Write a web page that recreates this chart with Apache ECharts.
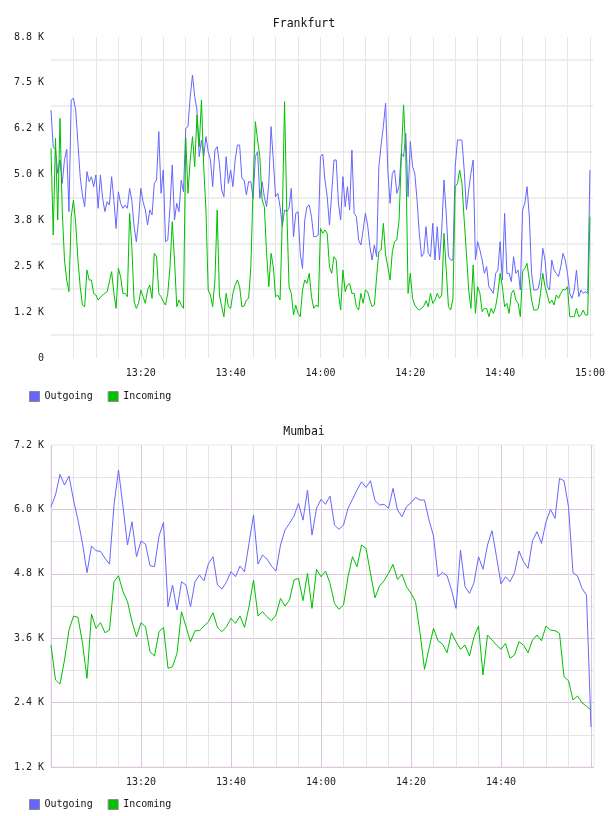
<!DOCTYPE html>
<html>
<head>
<meta charset="utf-8">
<script src="https://cdn.jsdelivr.net/npm/echarts@6/dist/echarts.min.js"></script>
<style>
html,body{margin:0;padding:0;background:#fff;}
#chart{width:608px;height:816px;}
</style>
</head>
<body>
<div id="chart"></div>
<script>
// ---- data ----
const seriesNames = ['Outgoing', 'Incoming'];
const chartTitles = ['Frankfurt', 'Mumbai'];

// Frankfurt: samples every 0.5 min starting 13:00 (minutes since midnight)
const frankfurtStartMin = 780;
const frankfurtStepMin = 0.5;
const frankfurtOutgoing = [
6760,5740,5690,5030,5400,4760,5400,5690,3990,7030,7080,6760,5850,4940,4440,4125,5080,4806,4940,4670,
4990,4080,4990,4350,3990,4260,4170,4940,4300,3530,4530,4215,4080,4170,4080,4625,4300,3580,3170,3760,
4625,4260,4035,3625,4035,3900,4760,4850,6170,4490,5125,3170,3215,4125,5260,3760,4215,3990,4850,4530,
6260,
6306,7123,7714,7123,6760,5488,5942,5488,6033,5624,5397,4670,5670,5760,5306,4580,4397,5488,4760,5124,
4670,5397,5806,5806,4897,4850,4443,4806,4806,4352,5488,5624,4352,4806,4397,4125,4760,6306,5397,4397,
4489,4125,3580,4035,3990,4080,4625,3307,3943,3990,2853,2444,3760,4125,4170,3852,3307,3307,3352,5488,
5560,4850,4397,3625,4489,5397,5397,4215,3760,4943,4125,4670,4035,5670,3943,3852,3216,3080,3489,3943,
3625,3034,2671,3080,2762,5215,5806,6306,6942,5124,4215,5033,5124,4489,4670,5579,5488,6124,4397,5897,
5215,5033,4306,3398,2762,2853,3580,2853,2762,3670,2671,3580,2671,3489,4850,3943,2762,2671,2671,5215,
5942,
5942,5942,5124,4034,4580,5033,5397,2671,3170,2943,2671,2307,2489,1943,1853,1762,2307,2398,3170,2126,
3943,2307,2307,2080,2762,2307,2398,1853,4034,4215,4670,3852,2307,1853,1853,1898,2217,2989,2671,1943,
1853,2671,2398,2307,2217,2489,2853,2671,2307,1762,1625,1853,2398,1671,1853,1762,1807,1762,5124
];
const frankfurtIncoming = [
5715,3352,5988,3761,6533,4034,2671,2126,1808,3852,4307,3670,2671,1944,1444,1399,2398,2126,2126,1762,
1717,1580,1653,1717,1762,1808,2080,2353,1762,1353,2444,2217,1762,1762,1671,3943,3034,1535,1353,1489,
1853,1671,1489,1853,1989,1626,2853,2762,1762,1671,1535,1444,1762,2489,3716,2671,1399,1580,1444,1353,
6000,
4489,5397,6033,5215,6624,5760,7033,5215,4034,1853,1717,1399,2126,4034,1717,1399,1126,1762,1399,1353,
1762,1989,2126,1944,1399,1417,1580,1626,2489,4670,6442,5942,5488,4307,4125,2853,1944,2853,2489,1671,
1717,1580,3761,6987,4034,1944,1762,1172,1444,1217,1126,1853,2126,2035,2307,1671,1353,1444,1399,3534,
3398,3489,3398,2489,2307,2762,2671,1762,1308,2398,1808,1989,2035,1762,1762,1399,1308,1762,1489,1853,
1808,1580,1399,1444,2217,2898,2944,3670,2807,2489,2126,2898,3171,3216,3761,5488,6900,5579,1762,2307,
1626,1444,1353,1308,1353,1417,1562,1399,1762,1489,1580,1762,1626,1717,3398,2398,1399,1308,1626,4670,
4761,
5124,4761,3761,2853,1853,1353,2535,1217,1944,1762,1262,1353,1353,1126,1353,1217,1399,1762,2307,1944,
1399,1489,1217,1762,1853,1580,1489,1126,2353,2444,2580,2126,1580,1308,1308,1344,1762,2307,1944,1717,
1489,1580,1444,1717,1626,1762,1871,1853,1944,1126,1126,1126,1353,1126,1172,1308,1172,1172,3852
];

// Mumbai: samples every 1 min starting 13:00
const mumbaiStartMin = 780;
const mumbaiStepMin = 1;
const mumbaiOutgoing = [
6050,6268,6653,6454,6621,6174,5800,5367,4820,5317,5230,5218,5088,4982,6081,6733,6050,5336,5770,5118,
5410,5354,4950,4932,5503,5758,4187,4591,4125,4652,4591,4187,4652,4777,4671,4994,5118,4591,4516,4652,
4839,4746,4945,4839,5367,5895,4982,5150,5075,4945,4851,5336,5615,5740,5876,6113,5800,
6360,5522,6019,6187,6094,6249,5708,5628,5708,6019,6187,6360,6515,6410,6534,6162,6081,6094,6019,6392,
5988,5863,6050,6124,6224,6174,6174,5802,5503,4746,4827,4765,4498,4156,5243,4560,4436,4634,5118,4883,
5336,5603,5118,4609,4746,4652,4820,5224,5025,4901,5416,5584,5367,5770,6000,5833,6578,6534,6050,4820,
4758,4529,4400,1945
];
const mumbaiIncoming = [
3473,2821,2746,3193,3752,4013,3989,3504,2852,4050,3784,3889,3702,3752,4652,4764,4466,4280,3907,3627,
3889,3814,3348,3268,3721,3802,3039,3069,3318,4093,3814,3534,3740,3740,3827,3907,4075,3802,3721,3814,
3970,3877,4013,3802,4187,4684,4013,4093,4000,3926,4032,4342,4199,4311,4684,4715,4300,
4808,4155,4883,4745,4851,4622,4249,4137,4218,4745,5118,4932,5336,5274,4808,4354,4572,4671,4808,4976,
4696,4790,4559,4436,4280,3700,3020,3411,3784,3553,3491,3330,3702,3534,3392,3473,3268,3628,3827,2914,
3659,3566,3473,3392,3504,3225,3287,3534,3473,3330,3566,3659,3553,3827,3752,3740,3690,2882,2808,2448,
2523,2398,2330,2262
];

// tick labels
const frankfurtYLabels = ['0', '1.2 K', '2.5 K', '3.8 K', '5.0 K', '6.2 K', '7.5 K', '8.8 K'];
const mumbaiYLabels = ['1.2 K', '2.4 K', '3.6 K', '4.8 K', '6.0 K', '7.2 K'];
const frankfurtXLabels = ['13:20', '13:40', '14:00', '14:20', '14:40', '15:00'];
const mumbaiXLabels = ['13:20', '13:40', '14:00', '14:20', '14:40'];

// ---- chart ----
const FONT = 'DejaVu Sans Mono';
const BLUE = '#6666ff';
const GREEN = '#00c000';

function toPairs(start, step, vals) {
  return vals.map((v, i) => [start + i * step, v]);
}
function fmtTime(v) {
  const h = Math.floor(v / 60 + 1e-9);
  const m = Math.round(v - h * 60);
  return String(h).padStart(2, '0') + ':' + String(m).padStart(2, '0');
}

const xMin = 780, xMax = 900 + 2 / 3;

function xAxis(gridIndex, labels, major, minor, showMin) {
  return {
    type: 'value', gridIndex, min: xMin, max: xMax, interval: 20,
    axisLine: { show: false }, axisTick: { show: false },
    axisLabel: {
      margin: 10, fontFamily: FONT, fontSize: 10, color: '#222',
      showMinLabel: false, showMaxLabel: false,
      formatter: v => { const s = fmtTime(v); return labels.includes(s) ? s : ''; }
    },
    splitLine: { show: true, showMinLine: showMin, showMaxLine: false, lineStyle: { color: major, width: 1 } },
    minorTick: { show: false, splitNumber: 4 },
    minorSplitLine: { show: true, lineStyle: { color: minor, width: 1 } }
  };
}

const option = {
  animation: false,
  backgroundColor: '#fff',
  title: [
    { text: chartTitles[0], left: 'center', top: 13, textStyle: { fontFamily: FONT, fontSize: 11.5, fontWeight: 'normal', color: '#111' } },
    { text: chartTitles[1], left: 'center', top: 421, textStyle: { fontFamily: FONT, fontSize: 11.5, fontWeight: 'normal', color: '#111' } }
  ],
  legend: [
    { left: 24, top: 386, itemWidth: 10, itemHeight: 10, itemGap: 15, icon: 'rect', data: seriesNames,
      itemStyle: { borderColor: '#8a8a8a', borderWidth: 1 },
      textStyle: { fontFamily: FONT, fontSize: 10, color: '#111' } },
    { left: 24, top: 794, itemWidth: 10, itemHeight: 10, itemGap: 15, icon: 'rect', data: seriesNames,
      itemStyle: { borderColor: '#8a8a8a', borderWidth: 1 },
      textStyle: { fontFamily: FONT, fontSize: 10, color: '#111' } }
  ],
  grid: [
    { left: 51, top: 37, width: 543, height: 321, show: false },
    { left: 51, top: 445, width: 543, height: 322, show: true, borderColor: '#f0e2f0', borderWidth: 1, backgroundColor: 'transparent' }
  ],
  xAxis: [
    xAxis(0, frankfurtXLabels, '#e6e6e6', '#e6e6e6', false),
    xAxis(1, mumbaiXLabels, '#dcc6dc', '#e8e3e8', true)
  ],
  yAxis: [
    { type: 'value', gridIndex: 0, min: 0, max: 8750, interval: 1250,
      axisLine: { show: false }, axisTick: { show: false },
      axisLabel: { margin: 7, fontFamily: FONT, fontSize: 10, color: '#222',
        formatter: v => frankfurtYLabels[Math.round(v / 1250)] },
      splitLine: { show: false },
      minorTick: { show: false, splitNumber: 2 },
      minorSplitLine: { show: true, lineStyle: { color: '#eeeeee', width: 2 } } },
    { type: 'value', gridIndex: 1, min: 1200, max: 7200, interval: 1200,
      axisLine: { show: false }, axisTick: { show: false },
      axisLabel: { margin: 7, fontFamily: FONT, fontSize: 10, color: '#222',
        formatter: v => mumbaiYLabels[Math.round((v - 1200) / 1200)] },
      splitLine: { show: true, showMinLine: true, showMaxLine: false, lineStyle: { color: '#dcc6dc', width: 1 } },
      minorTick: { show: false, splitNumber: 2 },
      minorSplitLine: { show: true, lineStyle: { color: '#e8e3e8', width: 1 } } }
  ],
  series: [
    { name: seriesNames[0], type: 'line', xAxisIndex: 0, yAxisIndex: 0, showSymbol: false,
      data: toPairs(frankfurtStartMin, frankfurtStepMin, frankfurtOutgoing),
      itemStyle: { color: BLUE }, lineStyle: { color: BLUE, width: 1 } },
    { name: seriesNames[1], type: 'line', xAxisIndex: 0, yAxisIndex: 0, showSymbol: false,
      data: toPairs(frankfurtStartMin, frankfurtStepMin, frankfurtIncoming),
      itemStyle: { color: GREEN }, lineStyle: { color: GREEN, width: 1 } },
    { name: seriesNames[0], type: 'line', xAxisIndex: 1, yAxisIndex: 1, showSymbol: false,
      data: toPairs(mumbaiStartMin, mumbaiStepMin, mumbaiOutgoing),
      itemStyle: { color: BLUE }, lineStyle: { color: BLUE, width: 1 } },
    { name: seriesNames[1], type: 'line', xAxisIndex: 1, yAxisIndex: 1, showSymbol: false,
      data: toPairs(mumbaiStartMin, mumbaiStepMin, mumbaiIncoming),
      itemStyle: { color: GREEN }, lineStyle: { color: GREEN, width: 1 } }
  ]
};

const chart = echarts.init(document.getElementById('chart'), null, { renderer: 'canvas' });
chart.setOption(option);
</script>
</body>
</html>
